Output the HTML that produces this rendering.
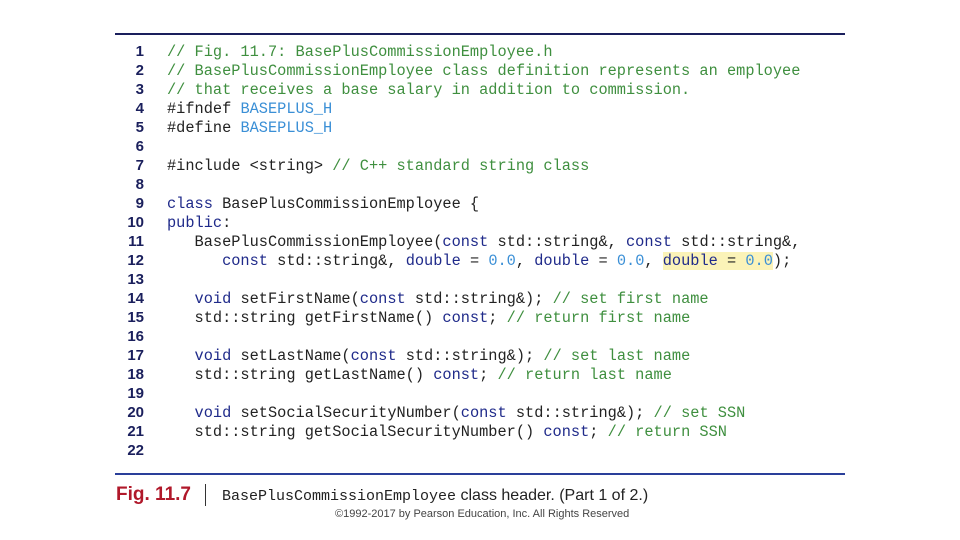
<!DOCTYPE html>
<html><head><meta charset="utf-8"><style>
body{margin:0;width:960px;height:540px;background:#fff;position:relative;overflow:hidden;font-family:"Liberation Sans",sans-serif}
.rule{position:absolute;left:115px;width:730px;height:2px}
.ln{position:absolute;left:100px;width:44px;text-align:right;font:bold 15px "Liberation Sans",sans-serif;color:#1a1f5c}
.c{position:absolute;left:167px;font:15.3px "Liberation Mono",monospace;color:#222;white-space:pre}
.cm{color:#3f8f3f}.k{color:#1f2a8a}.n{color:#3a8fd6}.p{color:#3a8fd6}
.hl{background:#fbf3b8}
</style></head><body>
<div class="rule" style="top:33px;background:#1a1f5c"></div>
<div class="rule" style="top:473px;background:#2a3f9a"></div>
<div id="lines"></div>
<div class="ln" style="top:43px">1</div><div class="c" style="top:43px"><span class="cm">// Fig. 11.7: BasePlusCommissionEmployee.h</span></div>
<div class="ln" style="top:62px">2</div><div class="c" style="top:62px"><span class="cm">// BasePlusCommissionEmployee class definition represents an employee</span></div>
<div class="ln" style="top:81px">3</div><div class="c" style="top:81px"><span class="cm">// that receives a base salary in addition to commission.</span></div>
<div class="ln" style="top:100px">4</div><div class="c" style="top:100px">#ifndef <span class="p">BASEPLUS_H</span></div>
<div class="ln" style="top:119px">5</div><div class="c" style="top:119px">#define <span class="p">BASEPLUS_H</span></div>
<div class="ln" style="top:138px">6</div>
<div class="ln" style="top:157px">7</div><div class="c" style="top:157px">#include &lt;string&gt; <span class="cm">// C++ standard string class</span></div>
<div class="ln" style="top:176px">8</div>
<div class="ln" style="top:195px">9</div><div class="c" style="top:195px"><span class="k">class</span> BasePlusCommissionEmployee {</div>
<div class="ln" style="top:214px">10</div><div class="c" style="top:214px"><span class="k">public</span>:</div>
<div class="ln" style="top:233px">11</div><div class="c" style="top:233px">   BasePlusCommissionEmployee(<span class="k">const</span> std::string&amp;, <span class="k">const</span> std::string&amp;,</div>
<div class="ln" style="top:252px">12</div><div class="c" style="top:252px">      <span class="k">const</span> std::string&amp;, <span class="k">double</span> = <span class="n">0.0</span>, <span class="k">double</span> = <span class="n">0.0</span>, <span class="hl"><span class="k">double</span> = <span class="n">0.0</span></span>);</div>
<div class="ln" style="top:271px">13</div>
<div class="ln" style="top:290px">14</div><div class="c" style="top:290px">   <span class="k">void</span> setFirstName(<span class="k">const</span> std::string&amp;); <span class="cm">// set first name</span></div>
<div class="ln" style="top:309px">15</div><div class="c" style="top:309px">   std::string getFirstName() <span class="k">const</span>; <span class="cm">// return first name</span></div>
<div class="ln" style="top:328px">16</div>
<div class="ln" style="top:347px">17</div><div class="c" style="top:347px">   <span class="k">void</span> setLastName(<span class="k">const</span> std::string&amp;); <span class="cm">// set last name</span></div>
<div class="ln" style="top:366px">18</div><div class="c" style="top:366px">   std::string getLastName() <span class="k">const</span>; <span class="cm">// return last name</span></div>
<div class="ln" style="top:385px">19</div>
<div class="ln" style="top:404px">20</div><div class="c" style="top:404px">   <span class="k">void</span> setSocialSecurityNumber(<span class="k">const</span> std::string&amp;); <span class="cm">// set SSN</span></div>
<div class="ln" style="top:423px">21</div><div class="c" style="top:423px">   std::string getSocialSecurityNumber() <span class="k">const</span>; <span class="cm">// return SSN</span></div>
<div class="ln" style="top:442px">22</div>
<div style="position:absolute;left:116px;top:484px;font:bold 19px 'Liberation Sans',sans-serif;color:#b0182a">Fig. 11.7</div>
<div style="position:absolute;left:205px;top:484px;width:1px;height:22px;background:#333"></div>
<div style="position:absolute;left:222px;top:487px;font-size:16px;color:#222;white-space:pre"><span style="font:15px 'Liberation Mono',monospace">BasePlusCommissionEmployee</span> class header. (Part 1 of 2.)</div>
<div style="position:absolute;left:335px;top:508px;font-size:11px;color:#444">©1992-2017 by Pearson Education, Inc. All Rights Reserved</div>
</body></html>
